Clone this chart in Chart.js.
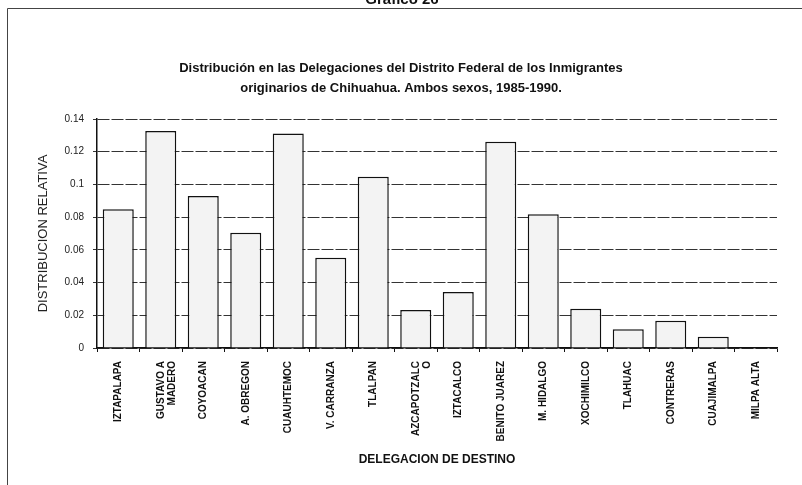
<!DOCTYPE html>
<html>
<head>
<meta charset="utf-8">
<script src="https://cdn.jsdelivr.net/npm/chart.js@4"></script>
<style>
  html, body { margin: 0; padding: 0; background: #fff; }
  #wrap { width: 802px; height: 485px; position: relative; }
</style>
</head>
<body>
<div id="wrap"><canvas id="chart"></canvas></div>
<script>
const delegaciones = [
    'IZTAPALAPA', ['GUSTAVO A', 'MADERO'], 'COYOACAN', 'A. OBREGON', 'CUAUHTEMOC',
    'V. CARRANZA', 'TLALPAN', ['AZCAPOTZALC', 'O'], 'IZTACALCO', 'BENITO JUAREZ',
    'M. HIDALGO', 'XOCHIMILCO', 'TLAHUAC', 'CONTRERAS', 'CUAJIMALPA', 'MILPA ALTA'
];
const distribucion = [
    0.0848, 0.1326, 0.0929, 0.0705, 0.1312,
    0.0552, 0.1047, 0.0232, 0.0342, 0.1261,
    0.0817, 0.0240, 0.0114, 0.0167, 0.0069, 0.0
];
const yTickLabels = ['0', '0.02', '0.04', '0.06', '0.08', '0.1', '0.12', '0.14'];
const titleLines = [
    'Distribución en las Delegaciones del Distrito Federal de los Inmigrantes',
    'originarios de Chihuahua. Ambos sexos, 1985-1990.'
];

const fontFamily = '"Liberation Sans", Arial, sans-serif';

// white page, frame and the cut-off page heading
const pagePlugin = {
    id: 'page',
    beforeDraw(chart) {
        const ctx = chart.ctx;
        ctx.save();
        ctx.fillStyle = '#fff';
        ctx.fillRect(0, 0, chart.width, chart.height);
        ctx.strokeStyle = '#444';
        ctx.lineWidth = 1;
        ctx.beginPath();
        ctx.moveTo(7.5, chart.height);
        ctx.lineTo(7.5, 8.5);
        ctx.lineTo(chart.width, 8.5);
        ctx.stroke();
        ctx.fillStyle = '#111';
        ctx.font = 'bold 15px ' + fontFamily;
        ctx.textAlign = 'center';
        ctx.textBaseline = 'alphabetic';
        ctx.fillText('Gráfico 26', 402, 4);
        ctx.restore();
    }
};

const ctx = document.getElementById('chart').getContext('2d');
new Chart(ctx, {
    type: 'bar',
    data: {
        labels: delegaciones,
        datasets: [{
            data: distribucion,
            backgroundColor: '#f3f3f3',
            borderColor: '#111',
            borderWidth: 1.5,
            barPercentage: 0.73,
            categoryPercentage: 1
        }]
    },
    options: {
        responsive: true,
        maintainAspectRatio: false,
        animation: false,
        layout: { padding: { left: 25, right: 25, top: 0, bottom: 0 } },
        plugins: {
            legend: { display: false },
            tooltip: { enabled: false },
            title: {
                display: true,
                text: titleLines,
                color: '#111',
                font: { family: fontFamily, size: 13, weight: 'bold', lineHeight: 1.5 },
                padding: { top: 59, bottom: 21 }
            }
        },
        scales: {
            x: {
                grid: {
                    display: true,
                    drawOnChartArea: false,
                    drawTicks: true,
                    tickLength: 4,
                    color: '#111'
                },
                border: { display: true, color: '#111', width: 1.5 },
                ticks: {
                    autoSkip: false,
                    minRotation: 90,
                    maxRotation: 90,
                    padding: 9,
                    color: '#111',
                    font: { family: fontFamily, size: 10, weight: 'bold', lineHeight: 1.1 }
                },
                title: {
                    display: true,
                    text: 'DELEGACION DE DESTINO',
                    color: '#111',
                    font: { family: fontFamily, size: 12, weight: 'bold' },
                    padding: { top: 0, bottom: 18 }
                },
                afterFit(scale) { scale.height = 137; }
            },
            y: {
                min: 0,
                max: 0.14,
                ticks: {
                    stepSize: 0.02,
                    padding: 9,
                    color: '#222',
                    font: { family: fontFamily, size: 10 },
                    callback: (value, index) => yTickLabels[index]
                },
                grid: {
                    color: '#333',
                    lineWidth: 1,
                    tickLength: 4
                },
                border: { display: true, color: '#111', width: 1.5, dash: [12, 2] },
                title: {
                    display: true,
                    text: 'DISTRIBUCION RELATIVA',
                    color: '#222',
                    font: { family: fontFamily, size: 13 },
                    padding: { top: 11, bottom: 0 }
                },
                afterFit(scale) { scale.width = 72; }
            }
        }
    },
    plugins: [pagePlugin]
});
</script>
</body>
</html>
